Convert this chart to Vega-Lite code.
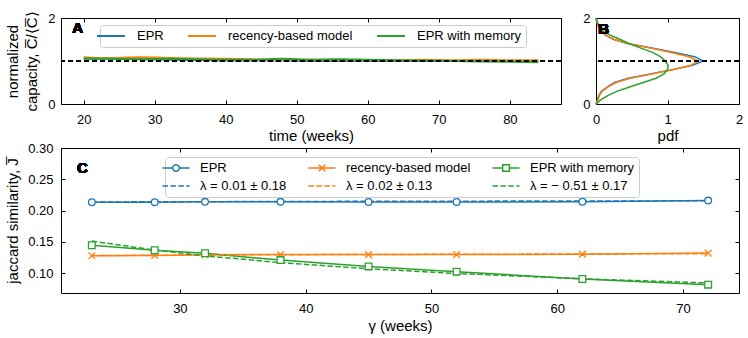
{
  "$schema": "https://vega.github.io/schema/vega-lite/v6.json",
  "background": "white",
  "padding": {"left": 5, "top": 10, "right": 5, "bottom": 3},
  "autosize": {"type": "pad"},
  "config": {
    "font": "Liberation Sans",
    "view": {"stroke": "black", "strokeWidth": 1},
    "axis": {"domain": false, "grid": false, "tickColor": "black", "tickSize": -4, "tickWidth": 1,
      "labelFontSize": 13, "labelColor": "black", "labelFont": "Liberation Sans",
      "titleFontSize": 15, "titleFontWeight": "normal", "titleColor": "black", "titleFont": "Liberation Sans",
      "labelFlush": false, "labelOverlap": false, "labelBound": false},
    "legend": {"labelFont": "Liberation Sans", "labelFontSize": 13, "labelColor": "black"}
  },
  "datasets": {
    "capA": [
      {"week": 20, "cap": 1.05, "model": "EPR"}, {"week": 24, "cap": 1.05, "model": "EPR"}, {"week": 28, "cap": 1.04, "model": "EPR"}, {"week": 32, "cap": 1.03, "model": "EPR"}, {"week": 36, "cap": 1.02, "model": "EPR"}, {"week": 40, "cap": 1.01, "model": "EPR"}, {"week": 44, "cap": 1.01, "model": "EPR"}, {"week": 48, "cap": 1.01, "model": "EPR"}, {"week": 52, "cap": 1.0, "model": "EPR"}, {"week": 56, "cap": 1.0, "model": "EPR"}, {"week": 60, "cap": 1.0, "model": "EPR"}, {"week": 64, "cap": 1.0, "model": "EPR"}, {"week": 68, "cap": 1.0, "model": "EPR"}, {"week": 72, "cap": 1.0, "model": "EPR"}, {"week": 76, "cap": 1.0, "model": "EPR"}, {"week": 80, "cap": 1.0, "model": "EPR"}, {"week": 84, "cap": 1.0, "model": "EPR"},
      {"week": 20, "cap": 1.09, "model": "recency-based model"}, {"week": 24, "cap": 1.07, "model": "recency-based model"}, {"week": 28, "cap": 1.09, "model": "recency-based model"}, {"week": 32, "cap": 1.07, "model": "recency-based model"}, {"week": 36, "cap": 1.06, "model": "recency-based model"}, {"week": 40, "cap": 1.05, "model": "recency-based model"}, {"week": 44, "cap": 1.04, "model": "recency-based model"}, {"week": 48, "cap": 1.03, "model": "recency-based model"}, {"week": 52, "cap": 1.03, "model": "recency-based model"}, {"week": 56, "cap": 1.03, "model": "recency-based model"}, {"week": 60, "cap": 1.02, "model": "recency-based model"}, {"week": 64, "cap": 1.02, "model": "recency-based model"}, {"week": 68, "cap": 1.03, "model": "recency-based model"}, {"week": 72, "cap": 1.02, "model": "recency-based model"}, {"week": 76, "cap": 1.03, "model": "recency-based model"}, {"week": 80, "cap": 1.02, "model": "recency-based model"}, {"week": 84, "cap": 1.02, "model": "recency-based model"},
      {"week": 20, "cap": 1.06, "model": "EPR with memory"}, {"week": 24, "cap": 1.05, "model": "EPR with memory"}, {"week": 28, "cap": 1.04, "model": "EPR with memory"}, {"week": 32, "cap": 1.05, "model": "EPR with memory"}, {"week": 36, "cap": 1.04, "model": "EPR with memory"}, {"week": 40, "cap": 1.03, "model": "EPR with memory"}, {"week": 44, "cap": 1.03, "model": "EPR with memory"}, {"week": 48, "cap": 1.05, "model": "EPR with memory"}, {"week": 52, "cap": 1.03, "model": "EPR with memory"}, {"week": 56, "cap": 1.04, "model": "EPR with memory"}, {"week": 60, "cap": 1.03, "model": "EPR with memory"}, {"week": 64, "cap": 1.02, "model": "EPR with memory"}, {"week": 68, "cap": 1.01, "model": "EPR with memory"}, {"week": 72, "cap": 1.0, "model": "EPR with memory"}, {"week": 76, "cap": 0.99, "model": "EPR with memory"}, {"week": 80, "cap": 0.98, "model": "EPR with memory"}, {"week": 84, "cap": 0.97, "model": "EPR with memory"}
    ],
    "pdfB": [
      {"cap": 0.0, "pdf": 0.0, "model": "EPR"}, {"cap": 0.1, "pdf": 0.02, "model": "EPR"}, {"cap": 0.2, "pdf": 0.04, "model": "EPR"}, {"cap": 0.3, "pdf": 0.08, "model": "EPR"}, {"cap": 0.4, "pdf": 0.16, "model": "EPR"}, {"cap": 0.5, "pdf": 0.26, "model": "EPR"}, {"cap": 0.6, "pdf": 0.45, "model": "EPR"}, {"cap": 0.7, "pdf": 0.76, "model": "EPR"}, {"cap": 0.8, "pdf": 1.08, "model": "EPR"}, {"cap": 0.9, "pdf": 1.35, "model": "EPR"}, {"cap": 1.0, "pdf": 1.5, "model": "EPR"}, {"cap": 1.1, "pdf": 1.38, "model": "EPR"}, {"cap": 1.2, "pdf": 1.1, "model": "EPR"}, {"cap": 1.3, "pdf": 0.78, "model": "EPR"}, {"cap": 1.4, "pdf": 0.45, "model": "EPR"}, {"cap": 1.5, "pdf": 0.25, "model": "EPR"}, {"cap": 1.6, "pdf": 0.13, "model": "EPR"}, {"cap": 1.7, "pdf": 0.07, "model": "EPR"}, {"cap": 1.8, "pdf": 0.035, "model": "EPR"}, {"cap": 1.9, "pdf": 0.015, "model": "EPR"}, {"cap": 2.0, "pdf": 0.0, "model": "EPR"},
      {"cap": 0.0, "pdf": 0.0, "model": "recency-based model"}, {"cap": 0.1, "pdf": 0.03, "model": "recency-based model"}, {"cap": 0.2, "pdf": 0.05, "model": "recency-based model"}, {"cap": 0.3, "pdf": 0.09, "model": "recency-based model"}, {"cap": 0.4, "pdf": 0.17, "model": "recency-based model"}, {"cap": 0.5, "pdf": 0.28, "model": "recency-based model"}, {"cap": 0.6, "pdf": 0.48, "model": "recency-based model"}, {"cap": 0.7, "pdf": 0.78, "model": "recency-based model"}, {"cap": 0.8, "pdf": 1.08, "model": "recency-based model"}, {"cap": 0.9, "pdf": 1.33, "model": "recency-based model"}, {"cap": 1.0, "pdf": 1.43, "model": "recency-based model"}, {"cap": 1.1, "pdf": 1.3, "model": "recency-based model"}, {"cap": 1.2, "pdf": 1.05, "model": "recency-based model"}, {"cap": 1.3, "pdf": 0.76, "model": "recency-based model"}, {"cap": 1.4, "pdf": 0.46, "model": "recency-based model"}, {"cap": 1.5, "pdf": 0.26, "model": "recency-based model"}, {"cap": 1.6, "pdf": 0.14, "model": "recency-based model"}, {"cap": 1.7, "pdf": 0.07, "model": "recency-based model"}, {"cap": 1.8, "pdf": 0.035, "model": "recency-based model"}, {"cap": 1.9, "pdf": 0.015, "model": "recency-based model"}, {"cap": 2.0, "pdf": 0.0, "model": "recency-based model"},
      {"cap": 0.0, "pdf": 0.0, "model": "EPR with memory"}, {"cap": 0.1, "pdf": 0.07, "model": "EPR with memory"}, {"cap": 0.2, "pdf": 0.17, "model": "EPR with memory"}, {"cap": 0.3, "pdf": 0.3, "model": "EPR with memory"}, {"cap": 0.4, "pdf": 0.48, "model": "EPR with memory"}, {"cap": 0.5, "pdf": 0.66, "model": "EPR with memory"}, {"cap": 0.6, "pdf": 0.84, "model": "EPR with memory"}, {"cap": 0.7, "pdf": 0.95, "model": "EPR with memory"}, {"cap": 0.8, "pdf": 1.0, "model": "EPR with memory"}, {"cap": 0.9, "pdf": 1.01, "model": "EPR with memory"}, {"cap": 1.0, "pdf": 0.97, "model": "EPR with memory"}, {"cap": 1.1, "pdf": 0.9, "model": "EPR with memory"}, {"cap": 1.2, "pdf": 0.79, "model": "EPR with memory"}, {"cap": 1.3, "pdf": 0.63, "model": "EPR with memory"}, {"cap": 1.4, "pdf": 0.47, "model": "EPR with memory"}, {"cap": 1.5, "pdf": 0.34, "model": "EPR with memory"}, {"cap": 1.6, "pdf": 0.2, "model": "EPR with memory"}, {"cap": 1.7, "pdf": 0.1, "model": "EPR with memory"}, {"cap": 1.8, "pdf": 0.05, "model": "EPR with memory"}, {"cap": 1.9, "pdf": 0.02, "model": "EPR with memory"}, {"cap": 2.0, "pdf": 0.0, "model": "EPR with memory"}
    ],
    "jacC": [
      {"gamma": 23, "J": 0.2135, "label": "EPR", "kind": "data"}, {"gamma": 28, "J": 0.2135, "label": "EPR", "kind": "data"}, {"gamma": 32, "J": 0.214, "label": "EPR", "kind": "data"}, {"gamma": 38, "J": 0.214, "label": "EPR", "kind": "data"}, {"gamma": 45, "J": 0.2138, "label": "EPR", "kind": "data"}, {"gamma": 52, "J": 0.2137, "label": "EPR", "kind": "data"}, {"gamma": 62, "J": 0.2142, "label": "EPR", "kind": "data"}, {"gamma": 72, "J": 0.216, "label": "EPR", "kind": "data"},
      {"gamma": 23, "J": 0.128, "label": "recency-based model", "kind": "data"}, {"gamma": 28, "J": 0.1285, "label": "recency-based model", "kind": "data"}, {"gamma": 32, "J": 0.1295, "label": "recency-based model", "kind": "data"}, {"gamma": 38, "J": 0.13, "label": "recency-based model", "kind": "data"}, {"gamma": 45, "J": 0.1298, "label": "recency-based model", "kind": "data"}, {"gamma": 52, "J": 0.1298, "label": "recency-based model", "kind": "data"}, {"gamma": 62, "J": 0.1305, "label": "recency-based model", "kind": "data"}, {"gamma": 72, "J": 0.1322, "label": "recency-based model", "kind": "data"},
      {"gamma": 23, "J": 0.1447, "label": "EPR with memory", "kind": "data"}, {"gamma": 28, "J": 0.1367, "label": "EPR with memory", "kind": "data"}, {"gamma": 32, "J": 0.132, "label": "EPR with memory", "kind": "data"}, {"gamma": 38, "J": 0.121, "label": "EPR with memory", "kind": "data"}, {"gamma": 45, "J": 0.111, "label": "EPR with memory", "kind": "data"}, {"gamma": 52, "J": 0.1026, "label": "EPR with memory", "kind": "data"}, {"gamma": 62, "J": 0.0909, "label": "EPR with memory", "kind": "data"}, {"gamma": 72, "J": 0.0818, "label": "EPR with memory", "kind": "data"},
      {"gamma": 23, "J": 0.2138, "label": "λ = 0.01 ± 0.18", "kind": "fit"}, {"gamma": 28, "J": 0.2141, "label": "λ = 0.01 ± 0.18", "kind": "fit"}, {"gamma": 32, "J": 0.2143, "label": "λ = 0.01 ± 0.18", "kind": "fit"}, {"gamma": 38, "J": 0.2146, "label": "λ = 0.01 ± 0.18", "kind": "fit"}, {"gamma": 45, "J": 0.2149, "label": "λ = 0.01 ± 0.18", "kind": "fit"}, {"gamma": 52, "J": 0.2151, "label": "λ = 0.01 ± 0.18", "kind": "fit"}, {"gamma": 62, "J": 0.2154, "label": "λ = 0.01 ± 0.18", "kind": "fit"}, {"gamma": 72, "J": 0.2157, "label": "λ = 0.01 ± 0.18", "kind": "fit"},
      {"gamma": 23, "J": 0.1283, "label": "λ = 0.02 ± 0.13", "kind": "fit"}, {"gamma": 28, "J": 0.1288, "label": "λ = 0.02 ± 0.13", "kind": "fit"}, {"gamma": 32, "J": 0.1291, "label": "λ = 0.02 ± 0.13", "kind": "fit"}, {"gamma": 38, "J": 0.1296, "label": "λ = 0.02 ± 0.13", "kind": "fit"}, {"gamma": 45, "J": 0.13, "label": "λ = 0.02 ± 0.13", "kind": "fit"}, {"gamma": 52, "J": 0.1303, "label": "λ = 0.02 ± 0.13", "kind": "fit"}, {"gamma": 62, "J": 0.1308, "label": "λ = 0.02 ± 0.13", "kind": "fit"}, {"gamma": 72, "J": 0.1313, "label": "λ = 0.02 ± 0.13", "kind": "fit"},
      {"gamma": 23, "J": 0.1515, "label": "λ = − 0.51 ± 0.17", "kind": "fit"}, {"gamma": 28, "J": 0.137, "label": "λ = − 0.51 ± 0.17", "kind": "fit"}, {"gamma": 32, "J": 0.1278, "label": "λ = − 0.51 ± 0.17", "kind": "fit"}, {"gamma": 38, "J": 0.117, "label": "λ = − 0.51 ± 0.17", "kind": "fit"}, {"gamma": 45, "J": 0.1072, "label": "λ = − 0.51 ± 0.17", "kind": "fit"}, {"gamma": 52, "J": 0.0997, "label": "λ = − 0.51 ± 0.17", "kind": "fit"}, {"gamma": 62, "J": 0.0912, "label": "λ = − 0.51 ± 0.17", "kind": "fit"}, {"gamma": 72, "J": 0.0845, "label": "λ = − 0.51 ± 0.17", "kind": "fit"}
    ]
  },
  "spacing": -3,
  "resolve": {"scale": {"color": "independent"}, "legend": {"color": "independent"}},
  "vconcat": [
    {
      "bounds": "flush",
      "spacing": 35,
      "resolve": {"scale": {"color": "independent"}, "legend": {"color": "independent"}},
      "hconcat": [
        {
          "width": 500, "height": 86,
          "data": {"name": "capA"},
          "layer": [
            {
              "mark": {"type": "line", "strokeWidth": 2, "interpolate": "monotone"},
              "encoding": {
                "x": {"field": "week", "type": "quantitative", "scale": {"domain": [16.8, 87.2], "nice": false, "zero": false},
                  "axis": {"orient": "bottom", "values": [20, 30, 40, 50, 60, 70, 80], "format": "d", "title": "time (weeks)", "labelPadding": 13, "titlePadding": 2}},
                "y": {"field": "cap", "type": "quantitative", "scale": {"domain": [0, 2], "nice": false, "zero": false},
                  "axis": {"orient": "left", "values": [0, 1, 2], "format": "d", "title": ["normalized", "capacity, C̅/⟨C̅⟩"], "labelPadding": 10, "titlePadding": 8, "titleLineHeight": 19}},
                "color": {"field": "model", "type": "nominal",
                  "scale": {"domain": ["EPR", "recency-based model", "EPR with memory"], "range": ["#1f77b4", "#ff7f0e", "#2ca02c"]},
                  "legend": {"orient": "none", "legendX": 39, "legendY": 7, "direction": "horizontal", "title": null,
                    "symbolSize": 144, "symbolStrokeWidth": 2, "labelOffset": 19, "columnPadding": 20, "padding": 4,
                    "fillColor": "white", "strokeColor": "#cccccc", "cornerRadius": 3,
                    "encode": {"symbols": {"update": {"shape": {"value": "M-2.33,0L2.33,0"}, "fill": {"value": "transparent"}, "strokeWidth": {"value": 2}}}}}}
              }
            },
            {
              "mark": {"type": "rule", "strokeDash": [5, 3], "color": "black", "strokeWidth": 1.2},
              "encoding": {"y": {"datum": 1, "type": "quantitative", "axis": null}}
            },
            {
              "mark": {"type": "text", "text": "A", "fontWeight": "bold", "fontSize": 15, "align": "left", "baseline": "middle", "font": "Liberation Sans"},
              "encoding": {
                "x": {"datum": 18.4, "type": "quantitative", "axis": {"orient": "top", "values": [20, 30, 40, 50, 60, 70, 80], "labels": false, "title": null}},
                "y": {"datum": 1.77, "type": "quantitative", "axis": {"orient": "right", "values": [0, 1, 2], "labels": false, "title": null}}
              }
            }
          ],
          "resolve": {"axis": {"x": "independent", "y": "independent"}}
        },
        {
          "width": 143, "height": 86,
          "data": {"name": "pdfB"},
          "layer": [
            {
              "mark": {"type": "line", "strokeWidth": 1.5, "interpolate": "linear"},
              "encoding": {
                "x": {"field": "pdf", "type": "quantitative", "scale": {"domain": [0, 2], "nice": false, "zero": false},
                  "axis": {"orient": "bottom", "values": [0, 1, 2], "labelExpr": "datum.value === 0 ? '0' : datum.value === 1 ? '1' : '2'", "title": "pdf", "labelPadding": 13, "titlePadding": 2, "labelOverlap": false, "labelBound": false, "labelFlush": false}},
                "y": {"field": "cap", "type": "quantitative", "scale": {"domain": [0, 2], "nice": false, "zero": false},
                  "axis": {"orient": "left", "values": [0, 1, 2], "format": "d", "title": null, "labelPadding": 10}},
                "color": {"field": "model", "type": "nominal",
                  "scale": {"domain": ["EPR", "recency-based model", "EPR with memory"], "range": ["#1f77b4", "#ff7f0e", "#2ca02c"]}, "legend": null},
                "order": {"field": "cap", "type": "quantitative"}
              }
            },
            {
              "mark": {"type": "rule", "strokeDash": [5, 3], "color": "black", "strokeWidth": 1.2},
              "encoding": {"y": {"datum": 1, "type": "quantitative", "axis": null}}
            },
            {
              "mark": {"type": "text", "text": "B", "fontWeight": "bold", "fontSize": 15, "align": "left", "baseline": "middle", "font": "Liberation Sans"},
              "encoding": {
                "x": {"datum": 0.03, "type": "quantitative", "axis": {"orient": "top", "values": [0, 1, 2], "labels": false, "title": null}},
                "y": {"datum": 1.74, "type": "quantitative", "axis": {"orient": "right", "values": [0, 1, 2], "labels": false, "title": null}}
              }
            }
          ],
          "resolve": {"axis": {"x": "independent", "y": "independent"}}
        }
      ]
    },
    {
      "width": 678, "height": 145,
      "data": {"name": "jacC"},
      "layer": [
        {
          "transform": [{"filter": "datum.kind === 'data'"}],
          "mark": {"type": "line", "strokeWidth": 1.5},
          "encoding": {
            "x": {"field": "gamma", "type": "quantitative", "scale": {"domain": [20.55, 74.45], "nice": false, "zero": false},
              "axis": {"orient": "bottom", "values": [30, 40, 50, 60, 70], "format": "d", "title": "γ (weeks)", "labelPadding": 13, "titlePadding": 3}},
            "y": {"field": "J", "type": "quantitative", "scale": {"domain": [0.0685, 0.3], "nice": false, "zero": false},
              "axis": {"orient": "left", "values": [0.1, 0.15, 0.2, 0.25, 0.3], "format": ".2f", "title": "jaccard similarity, J̅", "labelPadding": 12, "titlePadding": 7}},
            "color": {"field": "label", "type": "nominal",
              "scale": {"domain": ["EPR", "recency-based model", "EPR with memory", "λ = 0.01 ± 0.18", "λ = 0.02 ± 0.13", "λ = − 0.51 ± 0.17"],
                "range": ["#1f77b4", "#ff7f0e", "#2ca02c", "#1f77b4", "#ff7f0e", "#2ca02c"]},
              "legend": {"orient": "none", "legendX": 104, "legendY": 9, "columns": 3, "direction": "horizontal", "title": null,
                "symbolSize": 144, "symbolStrokeWidth": 1.5, "labelOffset": 17, "columnPadding": 18, "rowPadding": 4, "padding": 4,
                "fillColor": "white", "strokeColor": "#cccccc", "cornerRadius": 3,
                "encode": {"symbols": {"update": {
                  "shape": {"signal": "datum.value === 'EPR' ? 'M-2.25,0L-0.55,0M0.55,0L2.25,0M-0.55,0A0.55,0.55,0,1,1,0.55,0A0.55,0.55,0,1,1,-0.55,0' : datum.value === 'recency-based model' ? 'M-2.25,0L2.25,0M-0.55,-0.55L0.55,0.55M-0.55,0.55L0.55,-0.55' : datum.value === 'EPR with memory' ? 'M-2.25,0L-0.55,0M0.55,0L2.25,0M-0.55,-0.55L0.55,-0.55L0.55,0.55L-0.55,0.55Z' : 'M-2.25,0L-1.33,0M-0.93,0L-0.01,0M0.39,0L1.31,0M1.71,0L2.25,0'"},
                  "fill": {"value": "transparent"}, "strokeWidth": {"value": 1.5}, "strokeDash": {"value": [1, 0]}}}}}}
          }
        },
        {
          "transform": [{"filter": "datum.kind === 'fit'"}],
          "mark": {"type": "line", "strokeWidth": 1.5, "strokeDash": [5.5, 2.4]},
          "encoding": {
            "x": {"field": "gamma", "type": "quantitative", "axis": null},
            "y": {"field": "J", "type": "quantitative", "axis": null},
            "color": {"field": "label", "type": "nominal"}
          }
        },
        {
          "transform": [{"filter": "datum.label === 'EPR'"}],
          "mark": {"type": "point", "shape": "circle", "size": 45, "filled": false, "fill": "white", "fillOpacity": 1, "strokeWidth": 1.3, "opacity": 1},
          "encoding": {
            "x": {"field": "gamma", "type": "quantitative", "axis": null},
            "y": {"field": "J", "type": "quantitative", "axis": null},
            "color": {"field": "label", "type": "nominal"}
          }
        },
        {
          "transform": [{"filter": "datum.label === 'recency-based model'"}],
          "mark": {"type": "point", "shape": "M-1,-1L1,1M-1,1L1,-1", "size": 45, "filled": false, "strokeWidth": 1.3, "opacity": 1},
          "encoding": {
            "x": {"field": "gamma", "type": "quantitative", "axis": null},
            "y": {"field": "J", "type": "quantitative", "axis": null},
            "color": {"field": "label", "type": "nominal"}
          }
        },
        {
          "transform": [{"filter": "datum.label === 'EPR with memory'"}],
          "mark": {"type": "point", "shape": "square", "size": 45, "filled": false, "fill": "white", "fillOpacity": 1, "strokeWidth": 1.3, "opacity": 1},
          "encoding": {
            "x": {"field": "gamma", "type": "quantitative", "axis": null},
            "y": {"field": "J", "type": "quantitative", "axis": null},
            "color": {"field": "label", "type": "nominal"}
          }
        },
        {
          "mark": {"type": "text", "text": "C", "fontWeight": "bold", "fontSize": 15, "align": "left", "baseline": "middle", "font": "Liberation Sans"},
          "encoding": {
            "x": {"datum": 21.83, "type": "quantitative", "axis": {"orient": "top", "values": [30, 40, 50, 60, 70], "labels": false, "title": null}},
            "y": {"datum": 0.2685, "type": "quantitative", "axis": {"orient": "right", "values": [0.1, 0.15, 0.2, 0.25, 0.3], "labels": false, "title": null}}
          }
        }
      ],
      "resolve": {"axis": {"x": "independent", "y": "independent"}}
    }
  ]
}
